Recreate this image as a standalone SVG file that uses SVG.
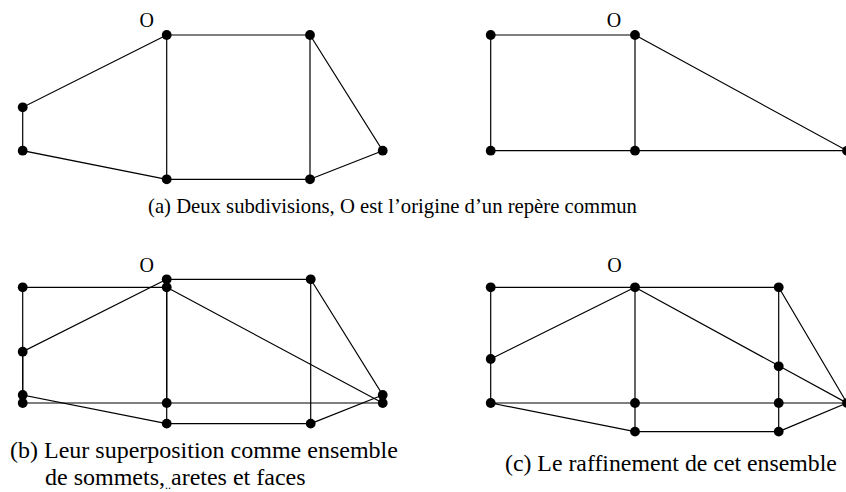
<svg xmlns="http://www.w3.org/2000/svg" width="846" height="492" viewBox="0 0 846 492">
<style>
.e{stroke:#000;stroke-width:1.2;fill:none}
.v{fill:#000}
.t{font-family:"Liberation Serif","Times New Roman",serif;fill:#000}
.o{font-size:20px;text-anchor:middle}
</style>
<defs><circle id="d" r="4.9" class="v"/></defs>
<rect width="846" height="492" fill="#fff"/>
<g id="connectors">
<path class="e" d="M166.7,35H310M166.7,35V179.3M310,35V179.3M166.7,179.3H310M166.7,35L22.7,107.3V150.7L166.7,179.3M310,35L382.7,150.7L310,179.3"/>
<path class="e" d="M490.7,35H635M490.7,35V150.7M635,35V150.7M490.7,150.7H847M635,35L847,150.7"/>
<path class="e" d="M166.7,279.3H310.7M166.7,279.3V423.6M310.7,279.3V423.6M166.7,423.6H310.7M166.7,279.3L22.7,351.7V395L166.7,423.6M310.7,279.3L382.7,395L310.7,423.6"/>
<path class="e" d="M22.7,287.3H166.7M22.7,287.3V403M166.7,287.3V403M22.7,403H382.7M166.7,287.3L382.7,403"/>
<path class="e" d="M490.7,287.3H778.7M490.7,287.3V403M635,287.3V431.6M778.7,287.3V431.6M490.7,403H847M635,431.6H778.7M635,287.3L490.7,359M635,287.3L847,403M778.7,287.3L847,403L778.7,431.6M490.7,403L635,431.6"/>
</g>
<g id="a1">
<use href="#d" x="166.7" y="35"/><use href="#d" x="310" y="35"/><use href="#d" x="22.7" y="107.3"/><use href="#d" x="22.7" y="150.7"/><use href="#d" x="166.7" y="179.3"/><use href="#d" x="310" y="179.3"/><use href="#d" x="382.7" y="150.7"/>
<text class="t o" x="146.8" y="27">O</text>
</g>
<g id="a2">
<use href="#d" x="490.7" y="35"/><use href="#d" x="635" y="35"/><use href="#d" x="490.7" y="150.7"/><use href="#d" x="635" y="150.7"/><use href="#d" x="847" y="150.7"/>
<text class="t o" x="614" y="27">O</text>
</g>
<g id="b">
<use href="#d" x="166.7" y="279.3"/><use href="#d" x="310.7" y="279.3"/><use href="#d" x="22.7" y="351.7"/><use href="#d" x="22.7" y="395"/><use href="#d" x="166.7" y="423.6"/><use href="#d" x="310.7" y="423.6"/><use href="#d" x="382.7" y="395"/>
<use href="#d" x="22.7" y="287.3"/><use href="#d" x="166.7" y="287.3"/><use href="#d" x="22.7" y="403"/><use href="#d" x="166.7" y="403"/><use href="#d" x="382.7" y="403"/>
<text class="t o" x="146.8" y="272">O</text>
</g>
<g id="c">
<use href="#d" x="490.7" y="287.3"/><use href="#d" x="635" y="287.3"/><use href="#d" x="778.7" y="287.3"/><use href="#d" x="490.7" y="359"/><use href="#d" x="490.7" y="403"/><use href="#d" x="635" y="403"/><use href="#d" x="778.7" y="366.3"/><use href="#d" x="778.7" y="403"/><use href="#d" x="635" y="431.6"/><use href="#d" x="778.7" y="431.6"/><use href="#d" x="847" y="403"/>
<text class="t o" x="614.5" y="272">O</text>
</g>
<g id="captions">
<text class="t" x="148" y="213" font-size="20.7">(a) Deux subdivisions, O est l’origine d’un repère commun</text>
<text class="t" x="10" y="458" font-size="24">(b) Leur superposition comme ensemble</text>
<text class="t" x="45" y="485" font-size="24">de sommets,<tspan font-size="12" dy="4">..</tspan><tspan dy="-4">aretes et faces</tspan></text>
<text class="t" x="505" y="471" font-size="23.8">(c) Le raffinement de cet ensemble</text>
</g>
</svg>
